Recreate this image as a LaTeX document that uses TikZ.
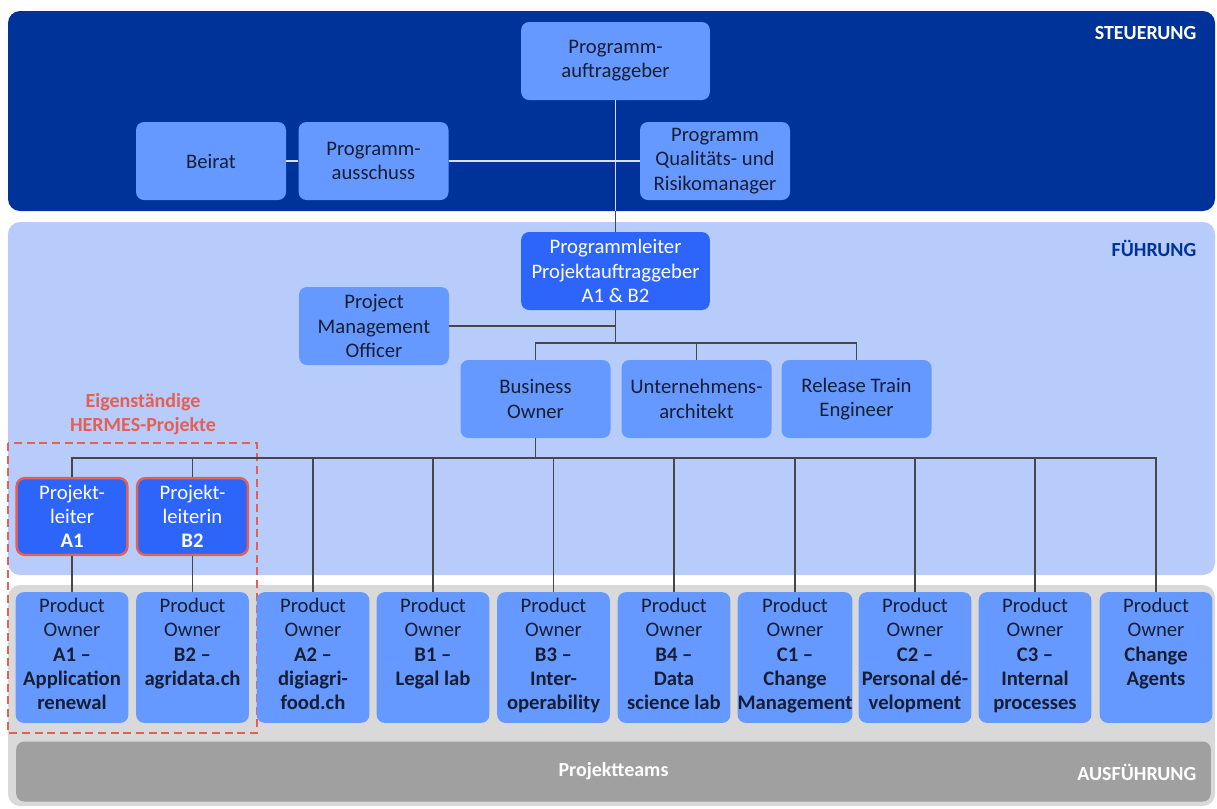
\documentclass[tikz,border=0pt]{standalone}
\usepackage{fontspec}
\setmainfont{Carlito}
\definecolor{steuerblau}{RGB}{0,51,153}
\definecolor{fuehrblau}{RGB}{183,204,250}
\definecolor{boxblau}{RGB}{102,153,255}
\definecolor{leitblau}{RGB}{45,100,250}
\definecolor{hermesrot}{RGB}{226,96,86}
\definecolor{ausgrau}{RGB}{217,217,217}
\definecolor{teamgrau}{RGB}{160,160,160}
\definecolor{textblau}{RGB}{22,30,52}
\tikzset{
  block/.style={fill=boxblau, rounded corners=6pt, minimum width=112.5pt,
    minimum height=58.5pt, align=center, text=textblau, inner sep=0pt,
    font=\fontsize{15.5}{18.2}\selectfont},
  leiter/.style={block, fill=leitblau, text=white},
  projleiter/.style={leiter, draw=hermesrot, line width=1.8pt,
    minimum width=83pt, minimum height=57.5pt},
  owner/.style={block, minimum width=84.5pt, minimum height=98pt,
    execute at begin node={\rule{0pt}{16pt}}, execute at end node=\strut},
  layer/.style={font=\fontsize{15}{18}\selectfont\bfseries},
  line/.style={draw=black!72, line width=1pt},
  hellline/.style={draw=white!85!steuerblau, line width=1pt},
}
\begin{document}
\begin{tikzpicture}[x=0.75pt, y=-0.75pt, auto, >=latex]
    \useasboundingbox (0,0) rectangle (1217,808);
    % We start by placing the layers
    \fill[steuerblau, rounded corners=9pt] (8,11) rectangle (1215,211);
    \fill[fuehrblau, rounded corners=9pt] (8,222) rectangle (1215,575);
    \fill[ausgrau, rounded corners=9pt] (8,585) rectangle (1215,806);
    \node[name=teams, fill=teamgrau, rounded corners=6pt, minimum width=896pt,
      minimum height=45pt, text=white, layer] at (613.5,771.5) {Projektteams};

    \node[name=lsteuer, anchor=east, text=white, layer] at (1201,33) {STEUERUNG};
    \node[name=lfuehr, anchor=east, text=steuerblau, layer] at (1201,248) {FÜHRUNG};
    \node[name=lausf, anchor=east, text=white, layer] at (1201,772) {AUSFÜHRUNG};

    % Steuerung
    \node[block, name=pag, minimum width=141.5pt] at (615.5,61) {Programm-\\auftraggeber};
    \node[block, name=beirat] at (211,161) {Beirat};
    \node[block, name=ausschuss] at (373.5,161) {Programm-\\ausschuss};
    \node[block, name=qrm] at (715,161) {Programm\\Qualitäts- und\\Risikomanager};

    % Fuehrung
    \node[leiter, name=pl, minimum width=141.5pt] at (615.5,271) {Programmleiter\\Projektauftraggeber\\A1 \& B2};
    \node[block, name=pmo] at (374,326) {Project\\Management\\Officer};
    \node[block, name=bo] at (535.5,399) {Business\\Owner};
    \node[block, name=ua] at (696.5,399) {Unternehmens-\\architekt};
    \node[block, name=rte] at (856.5,399) {Release Train\\Engineer};

    % HERMES-Projekte
    \draw[hermesrot, line width=1.5pt, dash pattern=on 6pt off 3.5pt]
      (8,443) rectangle (257,733);
    \node[name=hermes, text=hermesrot, align=center, layer] at (143,414)
      {Eigenständige\\HERMES-Projekte};
    \node[projleiter, name=pla1] at (72,516.5) {Projekt-\\leiter\\\textbf{A1}};
    \node[projleiter, name=plb2] at (192.5,516.5) {Projekt-\\leiterin\\\textbf{B2}};

    % Ausfuehrung
    \node[owner, name=poA1] at (72,657.5) {Product\\Owner\\\textbf{A1 --}\\\textbf{Application}\\\textbf{renewal}};
    \node[owner, name=poB2] at (192.5,657.5) {Product\\Owner\\\textbf{B2 --}\\\textbf{agridata.ch}\\\mbox{}};
    \node[owner, name=poA2] at (313,657.5) {Product\\Owner\\\textbf{A2 --}\\\textbf{digiagri-}\\\textbf{food.ch}};
    \node[owner, name=poB1] at (433,657.5) {Product\\Owner\\\textbf{B1 --}\\\textbf{Legal lab}\\\mbox{}};
    \node[owner, name=poB3] at (553.5,657.5) {Product\\Owner\\\textbf{B3 --}\\\textbf{Inter-}\\\textbf{operability}};
    \node[owner, name=poB4] at (674,657.5) {Product\\Owner\\\textbf{B4 --}\\\textbf{Data}\\\textbf{science lab}};
    \node[owner, name=poC1] at (795,657.5) {Product\\Owner\\\textbf{C1 --}\\\textbf{Change}\\\textbf{Management}};
    \node[owner, name=poC2] at (915,657.5) {Product\\Owner\\\textbf{C2 --}\\\textbf{Personal dé-}\\\textbf{velopment}};
    \node[owner, name=poC3] at (1035,657.5) {Product\\Owner\\\textbf{C3 --}\\\textbf{Internal}\\\textbf{processes}};
    \node[owner, name=poCA] at (1156,657.5) {Product\\Owner\\\textbf{Change}\\\textbf{Agents}\\\mbox{}};

    % Connections
    \coordinate (sbottom) at (615.5,211);
    \coordinate (bus1) at (615.5,343);
    \coordinate (bus2) at (535.5,458);

    \draw[line] (pag) to (pl);
    \draw[hellline] (pag) to (sbottom);
    \draw[hellline] (beirat) to (ausschuss);
    \draw[hellline] (ausschuss) to (qrm);

    \draw[line] (pmo.east) to (pmo.east -| pl.south);
    \draw[line] (pl) to (bus1);
    \draw[line] (bo.north) |- (bus1) -| (rte.north);
    \draw[line] (ua.north) to (ua.north |- bus1);

    \draw[line] (bo) to (bus2);
    \draw[line] (pla1.north) |- (bus2) -| (poCA.north);
    \draw[line] (plb2.north) to (plb2.north |- bus2);
    \draw[line] (poA2.north) to (poA2.north |- bus2);
    \draw[line] (poB1.north) to (poB1.north |- bus2);
    \draw[line] (poB3.north) to (poB3.north |- bus2);
    \draw[line] (poB4.north) to (poB4.north |- bus2);
    \draw[line] (poC1.north) to (poC1.north |- bus2);
    \draw[line] (poC2.north) to (poC2.north |- bus2);
    \draw[line] (poC3.north) to (poC3.north |- bus2);

    \draw[line] (pla1) to (poA1);
    \draw[line] (plb2) to (poB2);
  \end{tikzpicture}
\end{document}
